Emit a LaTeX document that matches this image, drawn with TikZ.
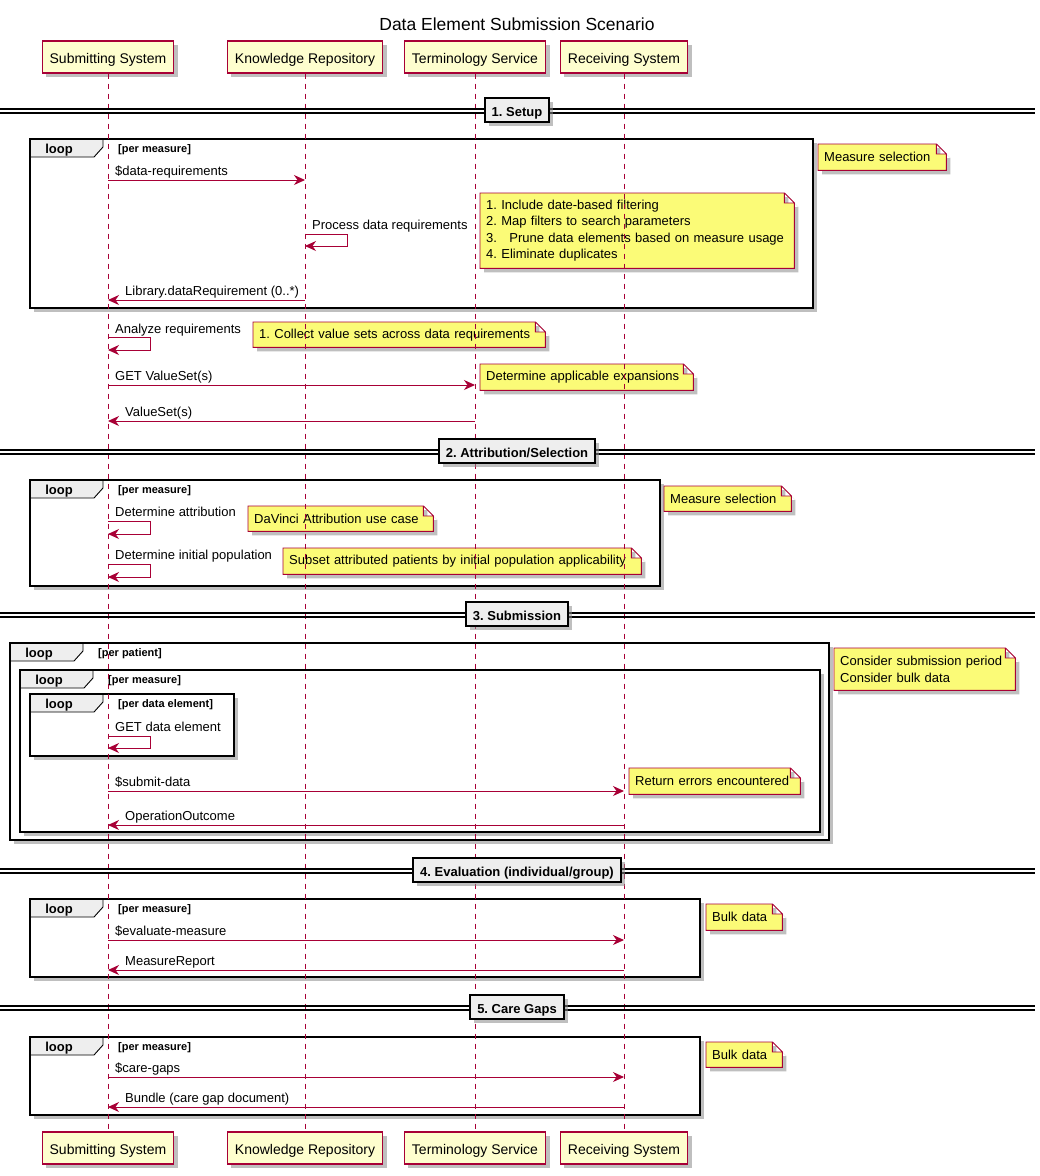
\documentclass[tikz,border=0pt]{standalone}
\usepackage{fontspec}
\setmainfont{Liberation Sans}
\usetikzlibrary{arrows.meta,shadows,backgrounds}
\definecolor{umlred}{HTML}{A80036}
\definecolor{partfill}{HTML}{FEFECE}
\definecolor{notefill}{HTML}{FBFB77}
\definecolor{tabgray}{HTML}{EEEEEE}
\frenchspacing
\begin{document}
\begin{tikzpicture}[x=1pt, y=-1pt,
  shad/.style={drop shadow={shadow xshift=4pt, shadow yshift=-4pt, fill=black!45, opacity=.55}},
  part/.style={draw=umlred, fill=partfill, line width=1.2pt, shad, minimum height=32pt,
    inner xsep=7.5pt, text height=12.5pt, text depth=0pt, font=\fontsize{14}{16}\selectfont},
  life/.style={draw=umlred, line width=.8pt, dash pattern=on 5pt off 5pt},
  msg/.style={draw=umlred, line width=1pt, -{Stealth[length=11pt, width=10pt, inset=3.5pt]}},
  lbl/.style={anchor=base west, inner sep=0pt, font=\fontsize{13}{15}\selectfont},
  note/.style={anchor=north west, inner xsep=6pt, inner ysep=0pt, align=left,
    font=\fontsize{13}{16.3}\selectfont},
  notebg/.style={draw=umlred, fill=notefill, line width=.9pt, shad},
  framebg/.style={fill=white, shad},
  border/.style={draw=black, line width=1.8pt},
  tab/.style={draw=black, fill=tabgray, line width=.9pt},
  tabtxt/.style={anchor=base, inner sep=0pt, font=\bfseries\fontsize{13}{15}\selectfont},
  cond/.style={anchor=base west, inner sep=0pt, font=\bfseries\fontsize{11}{13}\selectfont},
  dline/.style={draw=black, line width=1.1pt},
  divbox/.style={draw=black, fill=tabgray, line width=1.8pt, shad, minimum height=24pt,
    inner xsep=7pt, text height=12pt, text depth=0pt, font=\bfseries\fontsize{13}{15}\selectfont}]
\useasboundingbox (0,0) rectangle (1040,1176);
\node[anchor=base, font=\fontsize{17.5}{20}\selectfont] (title) at (517,30)
  {Data Element Submission Scenario};
\foreach \n/\x/\t in {ss/108/Submitting System, kr/305/Knowledge Repository,
    ts/475/Terminology Service, rs/624/Receiving System}{
  \node[part] (\n) at (\x,57) {\t};
  \node[part] (\n2) at (\x,1148) {\t};
}
\node[note, text width=116pt, minimum height=26pt] (n1) at (818,144) {Measure selection};
\node[note, text width=302pt, minimum height=75pt] (n2) at (480,193)
  {1. Include date-based filtering\\2. Map filters to search parameters\\
   3.\ \hspace{8pt}Prune data elements based on measure usage\\4. Eliminate duplicates};
\node[note, text width=280pt, minimum height=25pt] (n3) at (253,322)
  {1. Collect value sets across data requirements};
\node[note, text width=201pt, minimum height=26pt] (n4) at (480,364)
  {Determine applicable expansions};
\node[note, text width=115pt, minimum height=25pt] (n5) at (664,486) {Measure selection};
\node[note, text width=173pt, minimum height=25pt] (n6) at (248,506)
  {DaVinci Attribution use case};
\node[note, text width=346pt, minimum height=26pt] (n7) at (283,548)
  {Subset attributed patients by initial population applicability};
\node[note, text width=169pt, minimum height=42pt] (n8) at (834,648)
  {Consider submission period\\Consider bulk data};
\node[note, text width=159pt, minimum height=26pt] (n9) at (629,768)
  {Return errors encountered};
\node[note, text width=64pt, minimum height=26pt] (n10) at (706,904) {Bulk data};
\node[note, text width=64pt, minimum height=25pt] (n11) at (706,1042) {Bulk data};
\begin{scope}[on background layer]
  \fill[white] (0,0) rectangle (1040,1176);
  \foreach \i/\xa/\ya/\xb/\yb/\c in {1/30/139/813/308/per measure,
      2/30/480/660/586/per measure, 3/10/643/829/840/per patient,
      4/20/670/820/832/per measure, 5/30/694/234/756/per data element,
      6/30/899/700/977/per measure, 7/30/1037/700/1115/per measure}{
    \path[framebg] (\xa,\ya) rectangle (\xb,\yb);
    \draw[tab] (\xa,\ya) -- ++(73,0) -- ++(0,8) -- ++(-9,10) -- (\xa,\ya+18) -- cycle;
    \draw[border] (\xa,\ya) rectangle (\xb,\yb);
    \node[tabtxt] (lp\i) at (\xa+29,\ya+14) {loop};
    \node[cond] (lc\i) at (\xa+88,\ya+13) {[\c]};
  }
  \foreach \k in {1,...,11}
    \path[notebg] (n\k.south west) -- (n\k.north west) -- ([xshift=-10pt]n\k.north east)
      -- ([yshift=-10pt]n\k.north east) -- (n\k.south east) -- cycle
      ([xshift=-10pt]n\k.north east) |- ([yshift=-10pt]n\k.north east);
\end{scope}
\foreach \n in {ss,kr,ts,rs}
  \draw[life] (\n) -- (\n2);
\foreach \y/\t [count=\k] in {111/{1. Setup}, 452/{2. Attribution/Selection},
    615/{3. Submission}, 871/{4. Evaluation (individual/group)}, 1008/{5. Care Gaps}}{
  \draw[dline] (0,\y-2) -- (1035,\y-2) (0,\y+2) -- (1035,\y+2);
  \node[divbox] (div\k) at (517,\y-1) {\t};
}
\draw[msg] (ss |- 0,180) -- (kr |- 0,180);
\node[lbl] (m1) at (115,175) {\$data-requirements};
\draw[msg] (kr |- 0,234) -- ++(42,0) -- ++(0,12) -- (kr |- 0,246);
\node[lbl] (m2) at (312,229) {Process data requirements};
\draw[msg] (kr |- 0,300) -- (ss |- 0,300);
\node[lbl] (m3) at (125,295) {Library.dataRequirement (0..*)};
\draw[msg] (ss |- 0,337) -- ++(42,0) -- ++(0,13) -- (ss |- 0,350);
\node[lbl] (m4) at (115,333) {Analyze requirements};
\draw[msg] (ss |- 0,385) -- (ts |- 0,385);
\node[lbl] (m5) at (115,380) {GET ValueSet(s)};
\draw[msg] (ts |- 0,421) -- (ss |- 0,421);
\node[lbl] (m6) at (125,416) {ValueSet(s)};
\draw[msg] (ss |- 0,521) -- ++(42,0) -- ++(0,13) -- (ss |- 0,534);
\node[lbl] (m7) at (115,516) {Determine attribution};
\draw[msg] (ss |- 0,564) -- ++(42,0) -- ++(0,13) -- (ss |- 0,577);
\node[lbl] (m8) at (115,559) {Determine initial population};
\draw[msg] (ss |- 0,736) -- ++(42,0) -- ++(0,12) -- (ss |- 0,748);
\node[lbl] (m9) at (115,731) {GET data element};
\draw[msg] (ss |- 0,791) -- (rs |- 0,791);
\node[lbl] (m10) at (115,786) {\$submit-data};
\draw[msg] (rs |- 0,825) -- (ss |- 0,825);
\node[lbl] (m11) at (125,820) {OperationOutcome};
\draw[msg] (ss |- 0,940) -- (rs |- 0,940);
\node[lbl] (m12) at (115,935) {\$evaluate-measure};
\draw[msg] (rs |- 0,970) -- (ss |- 0,970);
\node[lbl] (m13) at (125,965) {MeasureReport};
\draw[msg] (ss |- 0,1077) -- (rs |- 0,1077);
\node[lbl] (m14) at (115,1072) {\$care-gaps};
\draw[msg] (rs |- 0,1107) -- (ss |- 0,1107);
\node[lbl] (m15) at (125,1102) {Bundle (care gap document)};
\end{tikzpicture}
\end{document}
